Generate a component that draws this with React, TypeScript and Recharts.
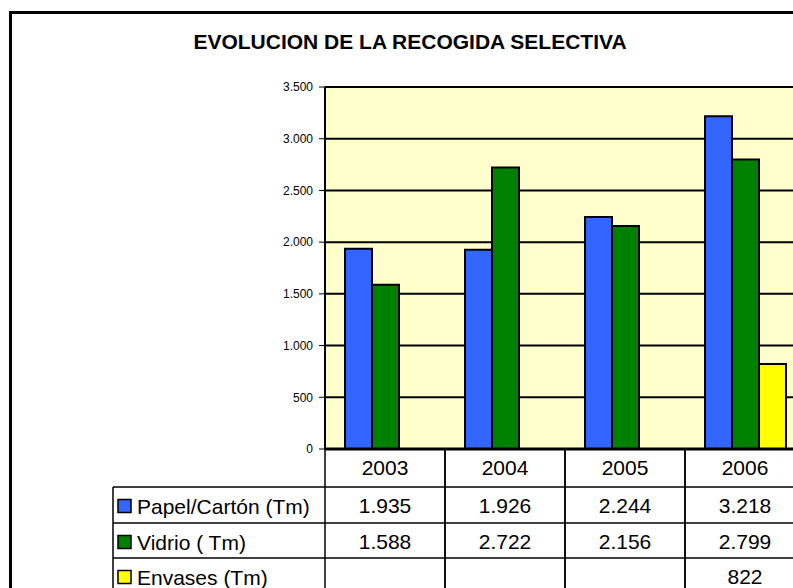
import React from 'react';
import { BarChart, Bar, XAxis, YAxis, CartesianGrid } from 'recharts';

const years = ['2003', '2004', '2005', '2006'];
const papel: (number | null)[] = [1935, 1926, 2244, 3218];
const vidrio: (number | null)[] = [1588, 2722, 2156, 2799];
const envases: (number | null)[] = [null, null, null, 822];
const yTicks = [0, 500, 1000, 1500, 2000, 2500, 3000, 3500];

const seriesNames = ['Papel/Cartón (Tm)', 'Vidrio ( Tm)', 'Envases (Tm)'];
const seriesKeys = ['papel', 'vidrio', 'envases'];
const seriesColors = ['#3366FF', '#008000', '#FFFF00'];
const seriesValues = [papel, vidrio, envases];

const data = years.map((y, i) => ({
  year: y,
  papel: papel[i],
  vidrio: vidrio[i],
  envases: envases[i],
}));

const FONT = '"Liberation Sans", Arial, Helvetica, sans-serif';

const fmt = (v: number | null | undefined) => {
  if (v === null || v === undefined) return '';
  const s = String(Math.round(v));
  return s.replace(/\B(?=(\d{3})+(?!\d))/g, '.');
};

// row tops relative to axis line
const ROW_TOPS = [0, 38, 74, 109];
const ROW_BOTTOM = 160;
const BASE = 26;

const TableTick = (props: any) => {
  const { x, y, payload, index } = props;
  const half = payload && payload.offset ? payload.offset : 60;
  const i = payload && typeof payload.index === 'number' ? payload.index : index;
  const ax = y; // axis line y (tickSize and tickMargin are 0)
  const left = x - half;
  const right = x + half;
  const lineColor = '#000';
  const els: any[] = [];
  els.push(<line key="vl" x1={left} x2={left} y1={ax} y2={ax + ROW_BOTTOM} stroke={lineColor} strokeWidth={1.5} />);
  els.push(<line key="vr" x1={right} x2={right} y1={ax} y2={ax + ROW_BOTTOM} stroke={lineColor} strokeWidth={1.5} />);
  for (let r = 1; r < ROW_TOPS.length; r++) {
    els.push(<line key={'h' + r} x1={left} x2={right} y1={ax + ROW_TOPS[r]} y2={ax + ROW_TOPS[r]} stroke={lineColor} strokeWidth={1.5} />);
  }
  els.push(
    <text key="yr" x={x} y={ax + BASE} textAnchor="middle" fontSize={21} fill="#000" fontFamily={FONT}>
      {payload.value}
    </text>
  );
  seriesValues.forEach((arr, s) => {
    els.push(
      <text key={'v' + s} x={x} y={ax + ROW_TOPS[s + 1] + BASE} textAnchor="middle" fontSize={21} fill="#000" fontFamily={FONT}>
        {fmt(arr[i])}
      </text>
    );
  });
  if (i === 0) {
    const lx = left - 212;
    els.push(<line key="lb" x1={lx} x2={lx} y1={ax + ROW_TOPS[1]} y2={ax + ROW_BOTTOM} stroke={lineColor} strokeWidth={1.5} />);
    for (let r = 1; r < ROW_TOPS.length; r++) {
      els.push(<line key={'lh' + r} x1={lx} x2={left} y1={ax + ROW_TOPS[r]} y2={ax + ROW_TOPS[r]} stroke={lineColor} strokeWidth={1.5} />);
    }
    seriesNames.forEach((name, s) => {
      const top = ax + ROW_TOPS[s + 1];
      els.push(<rect key={'sq' + s} x={lx + 5} y={top + 12.5} width={13} height={13} fill={seriesColors[s]} stroke="#000" strokeWidth={1.5} />);
      els.push(
        <text key={'ln' + s} x={lx + 24} y={top + BASE + 1} fontSize={21} fill="#000" fontFamily={FONT}>
          {name}
        </text>
      );
    });
  }
  return <g>{els}</g>;
};

export default function App() {
  return (
    <div style={{ position: 'fixed', left: 0, top: 0, width: 793, height: 588, overflow: 'hidden', background: '#fff' }}>
      <div style={{ position: 'absolute', left: 9, top: 11, width: 1000, height: 800, border: '3px solid #000', boxSizing: 'border-box' }} />
      <div
        style={{
          position: 'absolute', left: 0, top: 31, width: 820, textAlign: 'center',
          fontFamily: FONT, fontWeight: 'bold', fontSize: 21, lineHeight: '21px', color: '#000',
        }}
      >
        EVOLUCION DE LA RECOGIDA SELECTIVA
      </div>
      <div style={{ position: 'absolute', left: 0, top: 0 }}>
        <BarChart
          width={830}
          height={600}
          data={data}
          margin={{ top: 87, right: 25, left: 225, bottom: 0 }}
          barCategoryGap={20}
          barGap={0}
        >
          <CartesianGrid vertical={false} stroke="#000" strokeWidth={2} fill="#FFFFCC" fillOpacity={1} />
          <XAxis
            dataKey="year"
            height={151}
            axisLine={{ stroke: '#000', strokeWidth: 3 }}
            tickLine={false}
            tickSize={0}
            tickMargin={0}
            tick={<TableTick />}
            interval={0}
          />
          <YAxis
            width={100}
            domain={[0, 3500]}
            ticks={yTicks}
            interval={0}
            tickFormatter={(v: number) => fmt(v)}
            axisLine={{ stroke: '#000', strokeWidth: 2 }}
            tickLine={{ stroke: '#000', strokeWidth: 1 }}
            tickSize={6}
            tickMargin={6}
            tick={{ fontSize: 12, fill: '#000', fontFamily: FONT }}
          />
          {seriesKeys.map((k, s) => (
            <Bar key={k} dataKey={k} fill={seriesColors[s]} stroke="#000" strokeWidth={2} isAnimationActive={false} />
          ))}
        </BarChart>
      </div>
    </div>
  );
}
